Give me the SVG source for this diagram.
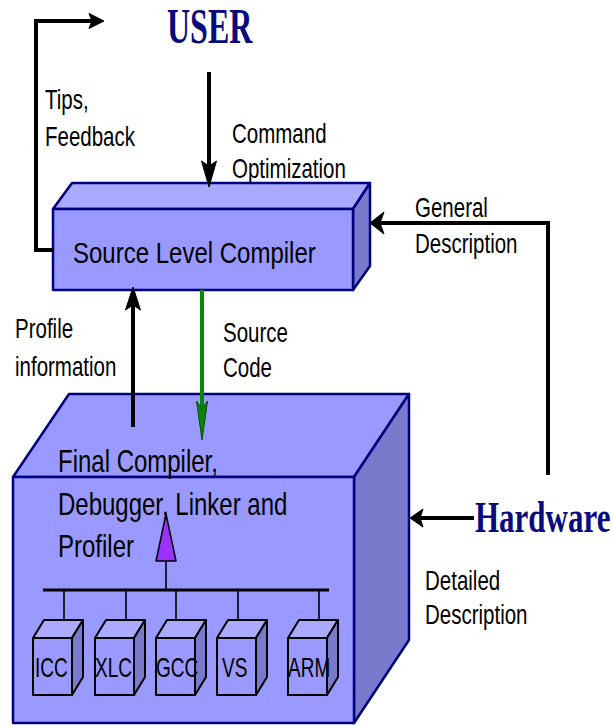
<svg xmlns="http://www.w3.org/2000/svg" width="613" height="725" viewBox="0 0 613 725">
  <style>
    .lbl { font-family: "Liberation Sans", Arial, sans-serif; font-size: 20.5px; fill: #000; }
    .big { font-family: "Liberation Sans", Arial, sans-serif; font-size: 24px; fill: #000; }
    .chip { font-family: "Liberation Sans", Arial, sans-serif; font-size: 19px; fill: #000; }
    .actor { font-family: "Liberation Serif", "Times New Roman", serif; font-weight: bold; fill: #0a0a80; }
    .front { fill: #9999ff; stroke: #000080; stroke-width: 2.5; stroke-linejoin: round; }
    .top { fill: #a9a9ff; stroke: #000080; stroke-width: 2.5; stroke-linejoin: round; }
    .side { fill: #7a7acc; stroke: #000080; stroke-width: 2.5; stroke-linejoin: round; }
    .cfront { fill: #9999ff; stroke: #000; stroke-width: 2; stroke-linejoin: round; }
    .ctop { fill: #aaaaff; stroke: #000; stroke-width: 2; stroke-linejoin: round; }
    .cside { fill: #7a7acc; stroke: #000; stroke-width: 2; stroke-linejoin: round; }
    .wire { fill: none; stroke: #000; stroke-width: 4; stroke-linejoin: miter; }
    .head { fill: #000; stroke: #000; stroke-width: 1; stroke-linejoin: round; }
    .bus { stroke: #000; stroke-width: 3; }
    .drop { stroke: #000; stroke-width: 1.6; }
  </style>

  <!-- actors -->
  <g id="user">
    <text class="actor" font-size="32" transform="translate(167,43) scale(1,1.55)">USER</text>
  </g>
  <g id="hardware">
    <text class="actor" font-size="31" transform="translate(475,532) scale(1,1.45)">Hardware</text>
  </g>

  <!-- source level compiler block -->
  <g id="source-level-compiler">
    <polygon class="top" points="53,209 72,183 370,183 353,209"/>
    <polygon class="side" points="353,209 370,183 370,266 353,290"/>
    <rect class="front" x="53" y="209" width="300" height="81"/>
    <text class="big" transform="translate(73,263) scale(1,1.22)">Source Level Compiler</text>
  </g>

  <!-- final compiler block -->
  <g id="final-compiler">
    <polygon class="top" points="13,477 69,394 409,394 354,477" style="fill:#9999ff"/>
    <polygon class="side" points="354,477 409,394 409,640 354,723"/>
    <rect class="front" x="13" y="477" width="341" height="246"/>
  </g>

  <!-- connectors -->
  <g id="connectors">
    <!-- tips / feedback back to the user -->
    <polyline class="wire" points="53,250 36,250 36,21 92,21"/>
    <polygon class="head" points="104,21 89,13.5 92,21 89,28.5"/>
    <!-- command optimization -->
    <line class="wire" x1="209" y1="72" x2="209" y2="168"/>
    <polygon class="head" points="209,187 201.5,161 209,166 216.5,161"/>
    <!-- general description -->
    <polyline class="wire" points="548,475 548,223 380,223"/>
    <polygon class="head" points="370,223 384,212 380,223 384,234"/>
    <!-- profile information -->
    <line class="wire" x1="133" y1="427" x2="133" y2="305"/>
    <polygon class="head" points="133,287 125.5,310 133,305 140.5,310"/>
    <!-- source code -->
    <line x1="202" y1="290" x2="202" y2="410" stroke="#0a860a" stroke-width="4"/>
    <polygon points="202,440 196.5,401 202,409 207.5,401" fill="#0a860a" stroke="#054d05" stroke-width="1"/>
    <!-- detailed description -->
    <line class="wire" x1="474" y1="518" x2="420" y2="518"/>
    <polygon class="head" points="410,518 423,509 420,518 423,527"/>
    <!-- internal tool bus -->
    <line class="drop" x1="166" y1="561" x2="166" y2="590"/>
    <line class="bus" x1="43" y1="590" x2="329" y2="590"/>
    <line class="drop" x1="64" y1="590" x2="64" y2="620"/>
    <line class="drop" x1="126" y1="590" x2="126" y2="620"/>
    <line class="drop" x1="176" y1="590" x2="176" y2="620"/>
    <line class="drop" x1="238" y1="590" x2="238" y2="620" stroke-width="2.2"/>
    <line class="drop" x1="319" y1="590" x2="319" y2="620" stroke-width="2.2"/>
    <polygon points="166,514 156,561 176,561" fill="#9b30ff" stroke="#000" stroke-width="1.5" stroke-linejoin="round"/>
  </g>

  <g id="final-compiler-label">
    <text class="big" transform="translate(58,472) scale(1,1.28)">Final Compiler,</text>
    <text class="big" transform="translate(58,515) scale(1,1.28)">Debugger, Linker and</text>
    <text class="big" transform="translate(58,557) scale(1,1.28)">Profiler</text>
  </g>

  <!-- back-end compilers -->
  <g id="icc">
    <polygon class="ctop" points="33,638 44,620 83,620 72,638"/>
    <polygon class="cside" points="72,638 83,620 83,677 72,695"/>
    <rect class="cfront" x="33" y="638" width="39" height="57"/>
    <text class="chip" transform="translate(35,677) scale(1,1.45)">ICC</text>
  </g>
  <g id="xlc">
    <polygon class="ctop" points="95,638 106,620 145,620 134,638"/>
    <polygon class="cside" points="134,638 145,620 145,677 134,695"/>
    <rect class="cfront" x="95" y="638" width="39" height="57"/>
    <text class="chip" transform="translate(95,677) scale(1,1.45)">XLC</text>
  </g>
  <g id="gcc">
    <polygon class="ctop" points="156,638 167,620 206,620 195,638"/>
    <polygon class="cside" points="195,638 206,620 206,677 195,695"/>
    <rect class="cfront" x="156" y="638" width="39" height="57"/>
    <text class="chip" transform="translate(156,677) scale(1,1.45)">GCC</text>
  </g>
  <g id="vs">
    <polygon class="ctop" points="217,638 228,620 267,620 256,638"/>
    <polygon class="cside" points="256,638 267,620 267,677 256,695"/>
    <rect class="cfront" x="217" y="638" width="39" height="57"/>
    <text class="chip" transform="translate(222,677) scale(1,1.45)">VS</text>
  </g>
  <g id="arm">
    <polygon class="ctop" points="288,638 299,620 338,620 327,638"/>
    <polygon class="cside" points="327,638 338,620 338,677 327,695"/>
    <rect class="cfront" x="288" y="638" width="39" height="57"/>
    <text class="chip" transform="translate(288,677) scale(1,1.45)">ARM</text>
  </g>

  <!-- connector labels -->
  <g id="labels">
    <text class="lbl" transform="translate(45,109) scale(1,1.35)">Tips,</text>
    <text class="lbl" transform="translate(45,146) scale(1,1.35)">Feedback</text>
    <text class="lbl" transform="translate(232,143) scale(1,1.35)">Command</text>
    <text class="lbl" transform="translate(232,178) scale(1,1.35)">Optimization</text>
    <text class="lbl" transform="translate(415,217) scale(1,1.35)">General</text>
    <text class="lbl" transform="translate(415,253) scale(1,1.35)">Description</text>
    <text class="lbl" transform="translate(15,338) scale(1,1.35)">Profile</text>
    <text class="lbl" transform="translate(15,376) scale(1,1.35)">information</text>
    <text class="lbl" transform="translate(223,342) scale(1,1.35)">Source</text>
    <text class="lbl" transform="translate(223,377) scale(1,1.35)">Code</text>
    <text class="lbl" transform="translate(425,590) scale(1,1.35)">Detailed</text>
    <text class="lbl" transform="translate(425,624) scale(1,1.35)">Description</text>
  </g>
</svg>
